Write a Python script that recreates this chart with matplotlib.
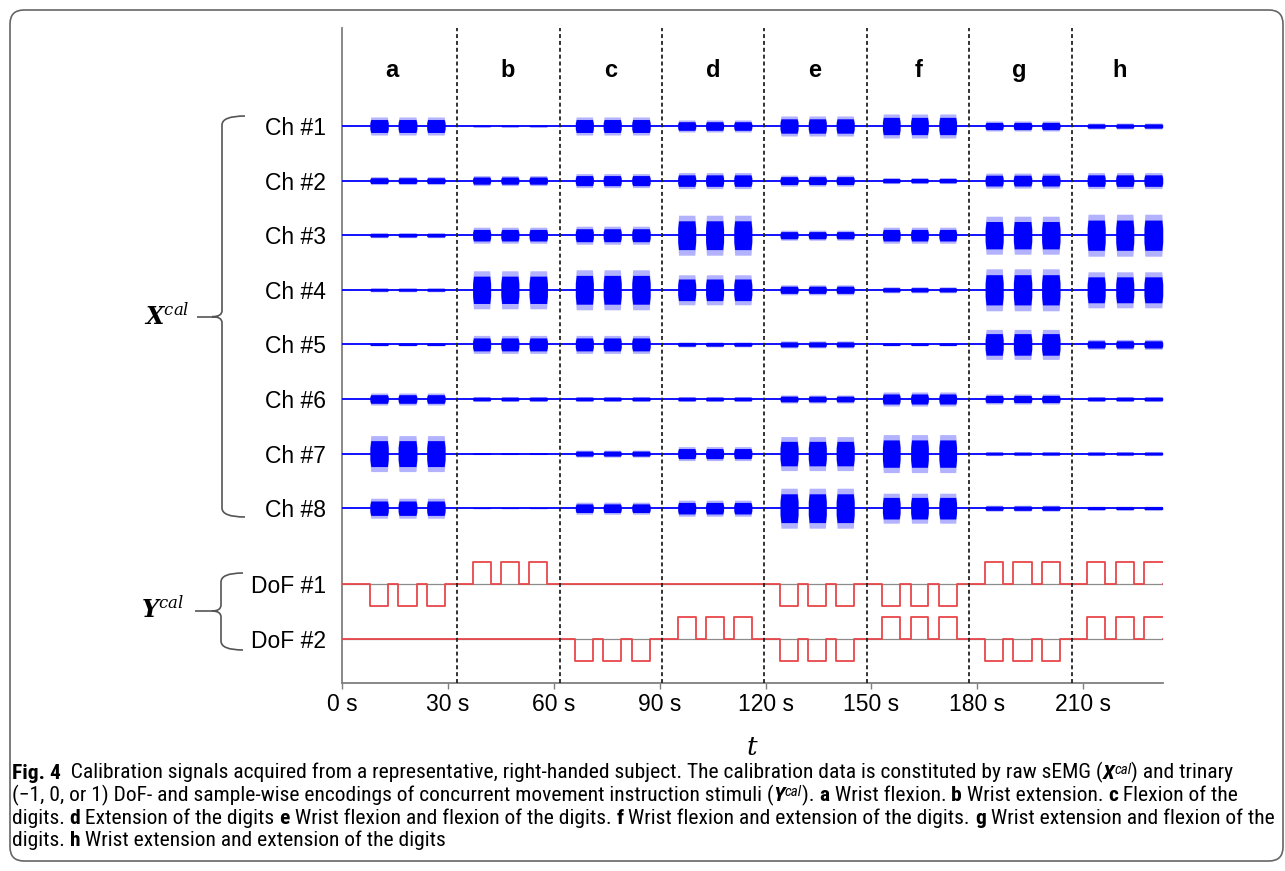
import numpy as np
import matplotlib
matplotlib.use("Agg")
import matplotlib.pyplot as plt
from matplotlib import font_manager
from matplotlib.path import Path
from matplotlib.patches import PathPatch, FancyBboxPatch
from matplotlib.transforms import Affine2D

# data
channels = ["Ch #1", "Ch #2", "Ch #3", "Ch #4", "Ch #5", "Ch #6", "Ch #7", "Ch #8"]
dofs = ["DoF #1", "DoF #2"]
segments = ["a", "b", "c", "d", "e", "f", "g", "h"]
seg_bounds = [32.5, 61.8, 90.6, 119.5, 148.6, 177.6, 206.7]
label_t = [14.2, 47.0, 76.2, 105.1, 134.0, 163.2, 192.0, 220.4]
t_end = 232.5
xticks = [0, 30, 60, 90, 120, 150, 180, 210]
xticklabels = ["0 s", "30 s", "60 s", "90 s", "120 s", "150 s", "180 s", "210 s"]

# stimulus on/off times (s), three repetitions per movement
pulse_on = [[7.9, 15.9, 24.0], [37.0, 45.0, 53.0], [66.1, 74.0, 82.1], [95.1, 103.0, 111.0],
            [124.1, 132.1, 140.0], [153.1, 161.1, 169.1], [182.2, 190.2, 198.2], [211.1, 219.2, 227.2]]
pulse_off = [[13.1, 21.2, 29.2], [42.1, 50.1, 58.2], [71.2, 79.1, 87.3], [100.2, 108.1, 116.1],
             [129.2, 137.2, 145.1], [158.1, 166.1, 174.1], [187.3, 195.4, 203.4], [216.2, 224.3, 233.0]]
dof1_level = [-1, 1, 0, 0, -1, -1, 1, 1]
dof2_level = [0, 0, -1, 1, -1, 1, -1, 1]

# sEMG burst envelope (a.u.) per channel and movement a..h
emg_amp = {
    "Ch #1": [9, 1, 9, 6, 10, 12, 5, 3],
    "Ch #2": [4, 5, 7, 8, 5.5, 3, 7.5, 8],
    "Ch #3": [2.5, 8, 9, 20, 5, 8, 19, 21],
    "Ch #4": [2, 19, 20, 15, 5, 3, 21, 18],
    "Ch #5": [1.5, 9, 9, 2.5, 3.5, 1.5, 15, 5],
    "Ch #6": [6, 2.5, 2.5, 2.5, 4, 7, 5, 2.5],
    "Ch #7": [18, 1, 3.5, 7, 17, 19, 2, 2],
    "Ch #8": [10, 0.5, 6, 8, 20, 15, 3, 2],
}

W, H = 1285, 871
fig = plt.figure(figsize=(W / 100, H / 100), dpi=100)
px = Affine2D().scale(1 / W, -1 / H).translate(0, 1) + fig.transFigure


def has_regular(name):
    for f in font_manager.fontManager.ttflist:
        if f.name == name and f.style == "normal":
            w = f.weight
            if isinstance(w, str):
                w = font_manager.weight_dict.get(w, 400)
            if w <= 450:
                return True
    return False


lab_font = ["Liberation Sans", "DejaVu Sans"]
cap_font = "DejaVu Sans"
for f in ["Liberation Sans Narrow", "Roboto Condensed", "Open Sans Condensed", "Noto Sans", "Open Sans"]:
    if has_regular(f):
        cap_font = f
        break

ax = fig.add_axes([342 / W, (H - 683) / H, (1162.7 - 342) / W, (683 - 28) / H])
row_px = 54.6
ax.set_xlim(0, t_end)
ax.set_ylim(-(683 - 126) / row_px, (126 - 28) / row_px)

blue = "#0000ff"
for i, ch in enumerate(channels):
    y0 = -i
    ax.plot([0, t_end], [y0, y0], color=blue, lw=1.3, zorder=3)
    for s in range(len(segments)):
        a = emg_amp[ch][s] / row_px
        for on, off in zip(pulse_on[s], pulse_off[s]):
            off = min(off, t_end)
            tt = [on, on + 0.25, off - 0.25, off]
            env = np.array([0.45, 1, 1, 0.45]) * a
            ax.fill_between(tt, y0 - env, y0 + env, color=blue, alpha=0.3, lw=0, zorder=3)
            ax.fill_between(tt, y0 - 0.72 * env, y0 + 0.72 * env, color=blue, lw=0, zorder=3)

dof_rows = [-(584 - 126) / row_px, -(639 - 126) / row_px]
step_h = 22 / row_px
for r, levels in zip(dof_rows, [dof1_level, dof2_level]):
    times, vals = [0], [0]
    for s, L in enumerate(levels):
        for on, off in zip(pulse_on[s], pulse_off[s]):
            times += [on, off]
            vals += [L, 0]
    times.append(t_end)
    vals.append(0)
    ax.plot([0, t_end], [r, r], color="#8c8c8c", lw=0.9, zorder=2)
    ax.plot(times, r + step_h * np.array(vals), drawstyle="steps-post", color="#e8474a", lw=1.3, zorder=3)

for b in seg_bounds:
    ax.axvline(b, color="#222222", ls=(0, (2.2, 1.6)), lw=1.3, zorder=4)

for t, s in zip(label_t, segments):
    ax.text(t, (126 - 71) / row_px, s, ha="center", va="center", fontsize=17, fontweight="bold", family=lab_font)

for sp in ["top", "right"]:
    ax.spines[sp].set_visible(False)
for sp in ["left", "bottom"]:
    ax.spines[sp].set_color("#7f7f7f")
    ax.spines[sp].set_linewidth(1.3)

ax.set_xticks(xticks)
ax.set_xticklabels(xticklabels, fontsize=16.5, family=lab_font)
ax.tick_params(axis="x", length=4, width=1, color="#7f7f7f", pad=3.5)
ax.set_yticks([-i for i in range(len(channels))] + dof_rows)
ax.set_yticklabels(channels + dofs, fontsize=16.5, family=lab_font)
ax.tick_params(axis="y", length=0, pad=11.5)

fig.text(752, 748, r"$t$", transform=px, ha="center", va="center", fontsize=19,
         math_fontfamily="dejavuserif")
fig.text(167, 316, r"$\mathbfit{X}^{cal}$", transform=px, ha="center", va="center", fontsize=17,
         math_fontfamily="dejavuserif")
fig.text(162, 609, r"$\mathbfit{Y}^{cal}$", transform=px, ha="center", va="center", fontsize=17,
         math_fontfamily="dejavuserif")


def brace(x_arm, x_v, x_tip, y0, y1, ym, x_line):
    r = 9
    verts = [(x_arm, y0), (x_v, y0), (x_v, y0 + r), (x_v, ym - 6), (x_v, ym), (x_tip, ym),
             (x_v, ym), (x_v, ym + 6), (x_v, y1 - r), (x_v, y1), (x_arm, y1)]
    codes = [Path.MOVETO, Path.CURVE3, Path.CURVE3, Path.LINETO, Path.CURVE3, Path.CURVE3,
             Path.CURVE3, Path.CURVE3, Path.LINETO, Path.CURVE3, Path.CURVE3]
    fig.add_artist(PathPatch(Path(verts, codes), transform=px, fill=False, ec="#555555", lw=1.2))
    fig.add_artist(PathPatch(Path([(x_line, ym), (x_tip, ym)]), transform=px, fill=False,
                             ec="#555555", lw=1.2))


brace(245, 222, 212, 116, 517, 316.7, 197)
brace(243, 221, 212, 573, 650, 611, 195)

# page frame
fig.add_artist(FancyBboxPatch((10, 10), 1273, 851, boxstyle="round,pad=0,rounding_size=14",
                              transform=px, fill=False, ec="#666666", lw=1.2))

# caption
renderer = fig.canvas.get_renderer()
styles = {"n": dict(weight="normal", style="normal", rel=1.0, dy=0),
          "b": dict(weight="bold", style="normal", rel=1.0, dy=0),
          "bi": dict(weight="bold", style="italic", rel=1.0, dy=0),
          "sup": dict(weight="normal", style="italic", rel=0.7, dy=5)}

cap_lines = [
    [("Fig. 4", "b"), ("  Calibration signals acquired from a representative, right-handed subject. The calibration data is constituted by raw sEMG (", "n"),
     ("X", "bi"), ("cal", "sup"), (") and trinary", "n")],
    [("(\u22121, 0, or 1) DoF- and sample-wise encodings of concurrent movement instruction stimuli (", "n"), ("Y", "bi"), ("cal", "sup"),
     ("). ", "n"), ("a", "b"), (" Wrist flexion. ", "n"), ("b", "b"), (" Wrist extension. ", "n"), ("c", "b"), (" Flexion of the", "n")],
    [("digits. ", "n"), ("d", "b"), (" Extension of the digits ", "n"), ("e", "b"), (" Wrist flexion and flexion of the digits. ", "n"),
     ("f", "b"), (" Wrist flexion and extension of the digits. ", "n"), ("g", "b"), (" Wrist extension and flexion of the", "n")],
    [("digits. ", "n"), ("h", "b"), (" Wrist extension and extension of the digits", "n")],
]
cap_y = [778.5, 801, 823.5, 846]
cap_right = [1240, 1240, 1277, 563]


def kw_for(key, size):
    st = styles[key]
    return dict(fontsize=size * st["rel"], fontweight=st["weight"], fontstyle=st["style"],
                family=[cap_font, "DejaVu Sans"])


def width(s, key, size):
    kw = kw_for(key, size)
    t1 = fig.text(0, 0, "|" + s + "|", **kw)
    t0 = fig.text(0, 0, "||", **kw)
    w = t1.get_window_extent(renderer).width - t0.get_window_extent(renderer).width
    t1.remove()
    t0.remove()
    return w


size0 = 12.0
cap_size = min(size0 * (right - 12) / sum(width(s, k, size0) for s, k in line)
               for line, right in zip(cap_lines[:3], cap_right[:3]))

for line, y in zip(cap_lines, cap_y):
    x = 12
    for s, k in line:
        fig.text(x, y - styles[k]["dy"], s, transform=px, va="baseline", ha="left", **kw_for(k, cap_size))
        x += width(s, k, cap_size)

fig.savefig("out.png", dpi=100)
